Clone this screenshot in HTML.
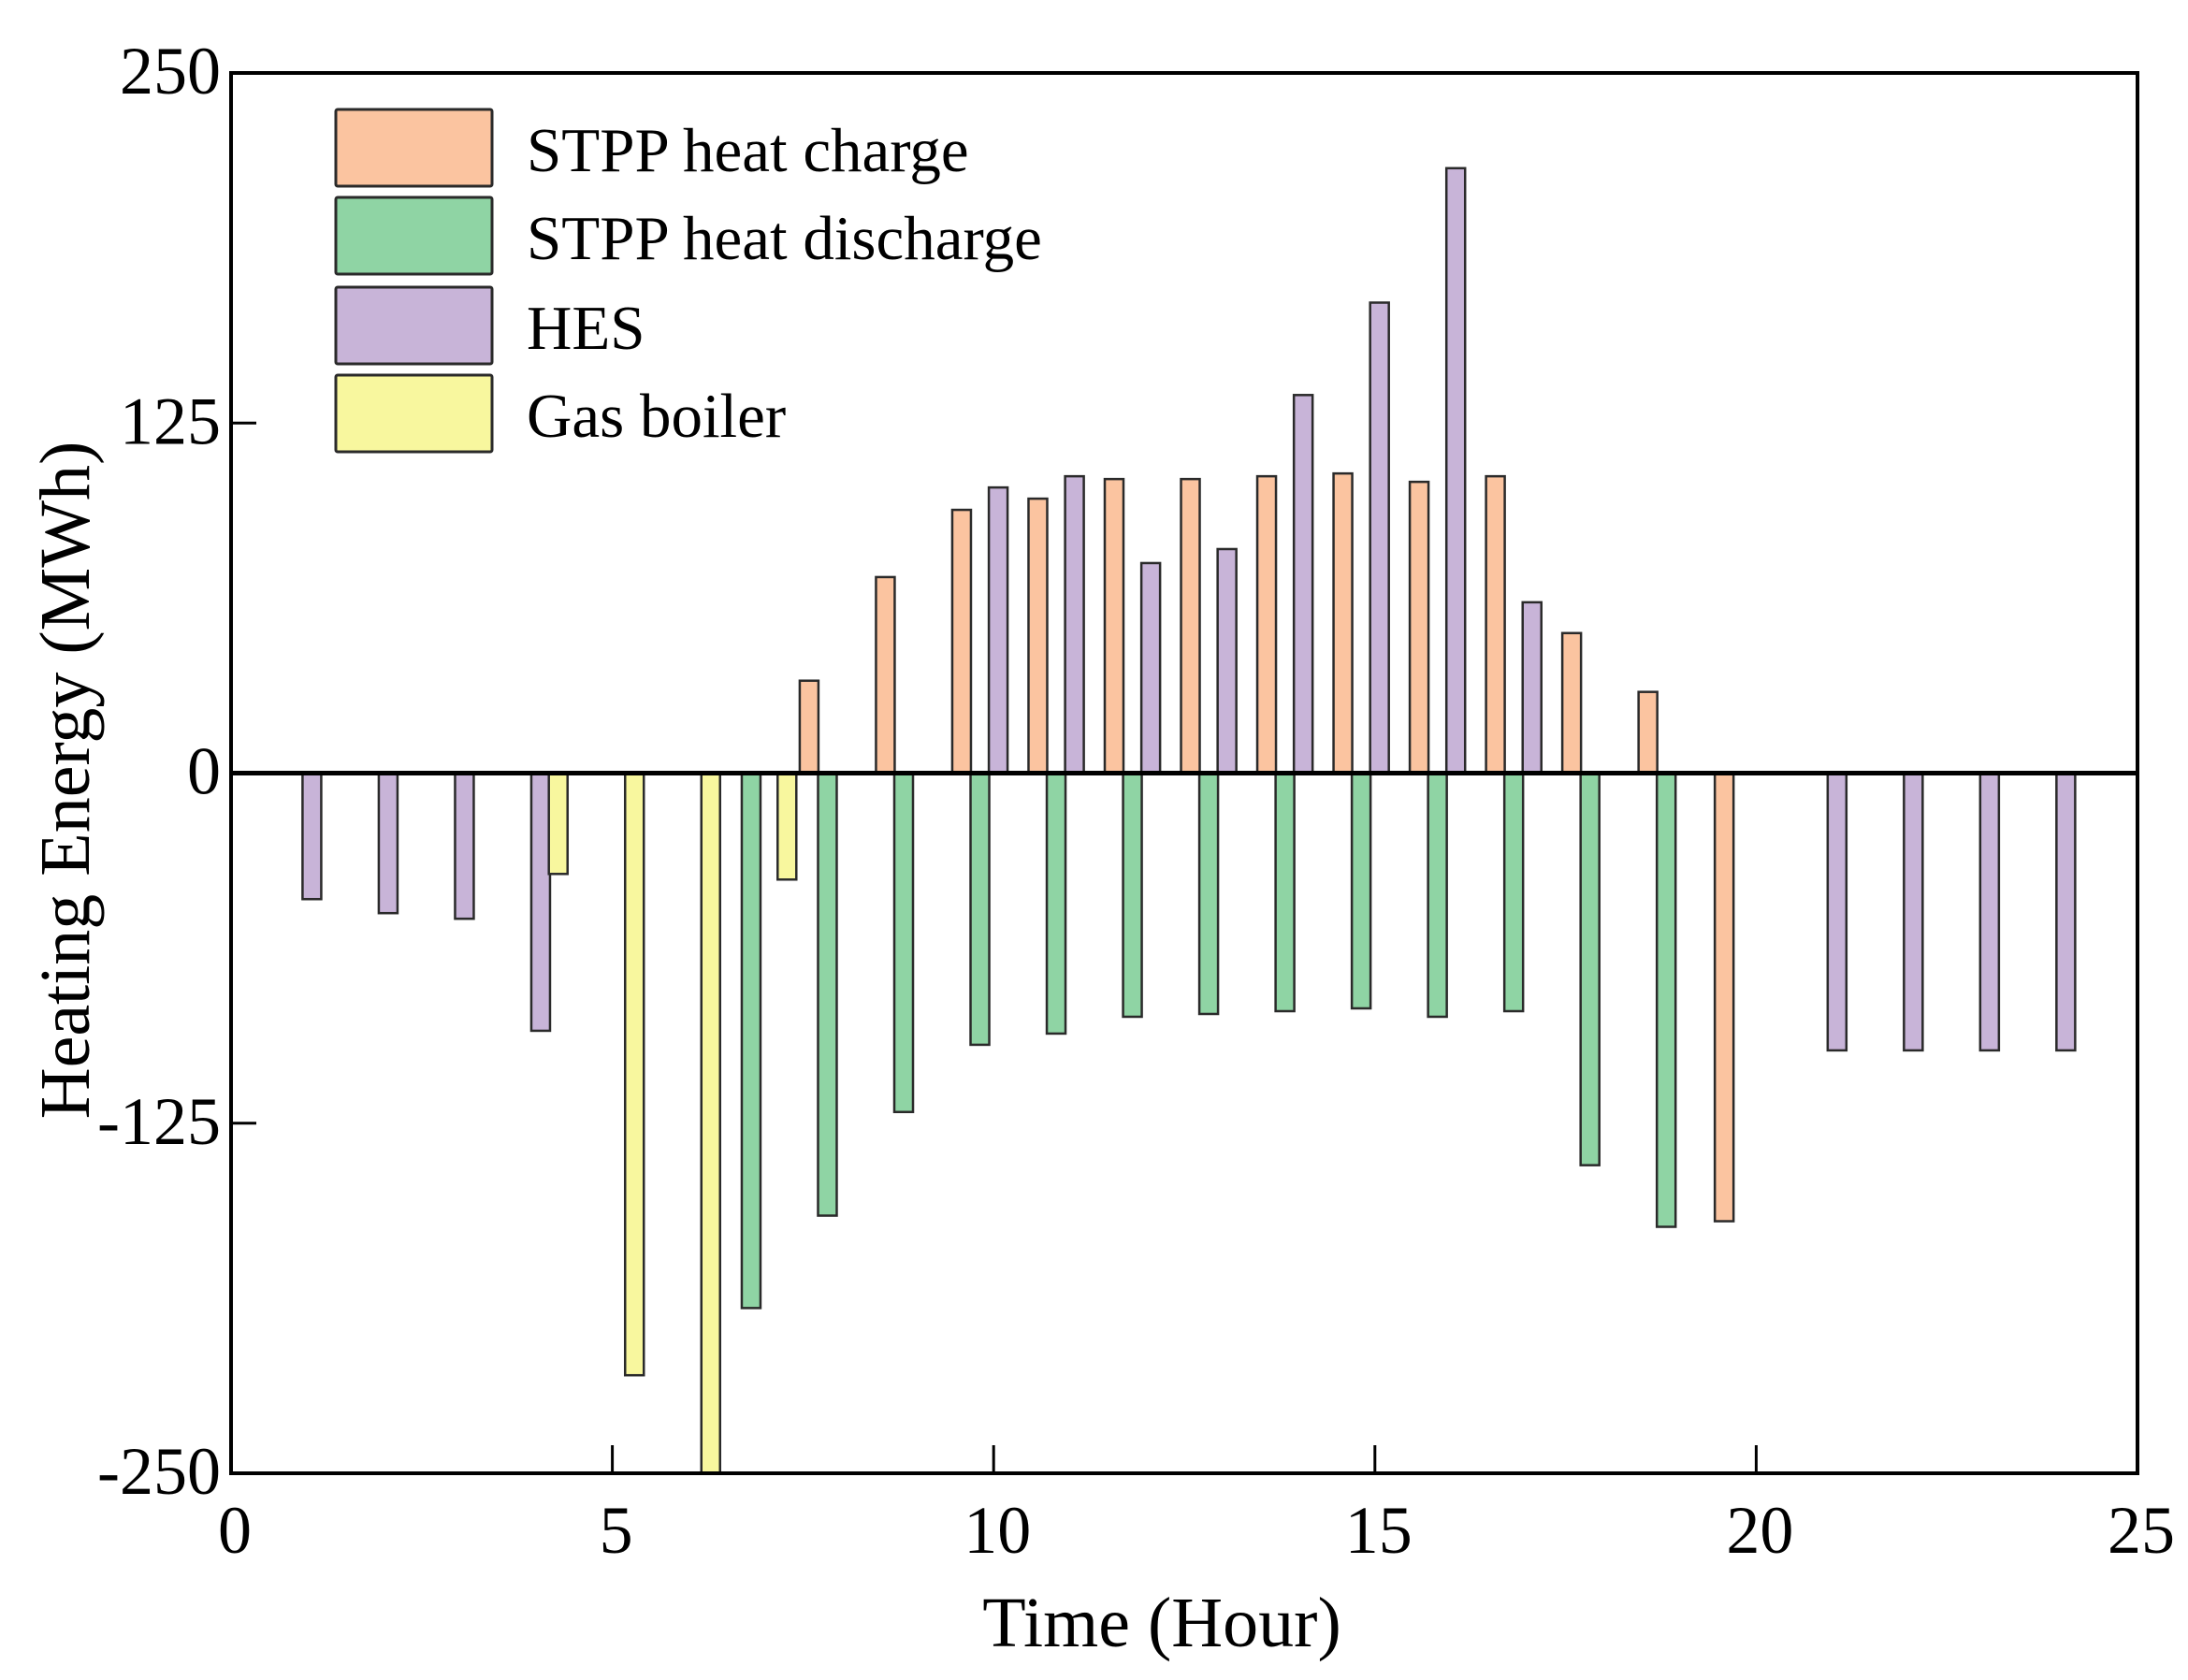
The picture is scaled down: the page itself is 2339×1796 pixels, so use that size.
<!DOCTYPE html>
<html><head><meta charset="utf-8"><style>
html,body{margin:0;padding:0;background:#fff;}
svg{display:block;font-family:"Liberation Serif",serif;}
</style></head><body>
<svg id="chart" width="2339" height="1796" viewBox="0 0 2339 1796" xmlns="http://www.w3.org/2000/svg">
<g id="bars"></g>
<g id="axes"></g>
<g id="legend"></g>
</svg>
<script>
const hesHours=[1,2,3,4,10,11,12,13,14,15,16,17,21,22,23,24];
const hesValues=[-45,-50,-52,-92,102,106,75,80,135,168,216,61,-99,-99,-99,-99];
const gasHours=[4,5,6,7];
const gasValues=[-36,-215,-250,-38];
const chargeHours=[8,9,10,11,12,13,14,15,16,17,18,19,20];
const chargeValues=[33,70,94,98,105,105,106,107,104,106,50,29,-160];
const dischargeHours=[7,8,9,10,11,12,13,14,15,16,17,18,19];
const dischargeValues=[-191,-158,-121,-97,-93,-87,-86,-85,-84,-87,-85,-140,-162];
const xTicks=[0,5,10,15,20,25];
const yTicks=[250,125,0,-125,-250];
const yTickLabels=["250","125","0","-125","-250"];
const legendLabels=["STPP heat charge","STPP heat discharge","HES","Gas boiler"];

const NS="http://www.w3.org/2000/svg";
const L=247,R=2285,T=78,B=1575;
const xs=v=>L+(v/25)*(R-L);
const ys=v=>T+(250-v)/500*(B-T);
function mk(tag,attrs,parent){const e=document.createElementNS(NS,tag);for(const k in attrs)e.setAttribute(k,attrs[k]);parent.appendChild(e);return e;}
const bars=document.getElementById('bars'),axes=document.getElementById('axes'),legend=document.getElementById('legend');
const BW=20;
function drawSeries(hours,vals,offset,fill,name){
  hours.forEach((h,i)=>{
    const v=vals[i];const cx=xs(h+offset);
    const y0=ys(0),y1=ys(v);
    const r=mk('rect',{x:cx-BW/2,y:Math.min(y0,y1),width:BW,height:Math.abs(y1-y0),fill:fill,stroke:'#2a2a2a','stroke-width':2.5},bars);
    
    
  });
}
drawSeries(chargeHours,chargeValues,-0.42,'#fbc4a0','stpp-charge');
drawSeries(dischargeHours,dischargeValues,-0.18,'#8fd4a4','stpp-discharge');
drawSeries(hesHours,hesValues,0.06,'#c8b4d8','hes');
drawSeries(gasHours,gasValues,0.29,'#f8f79e','gas-boiler');

let f=mk('rect',{x:L,y:T,width:R-L,height:B-T,fill:'none',stroke:'#000','stroke-width':4},axes);

let z=mk('line',{x1:L,x2:R,y1:ys(0),y2:ys(0),stroke:'#000','stroke-width':5},axes);

xTicks.forEach(t=>{
  if(t>0&&t<25){const tk=mk('line',{x1:xs(t),x2:xs(t),y1:B,y2:B-30,stroke:'#000','stroke-width':3},axes);
  }
  const tx=mk('text',{x:xs(t)+4,y:1660,'font-size':72,'text-anchor':'middle'},axes);tx.textContent=t;
  
});
yTicks.forEach((t,i)=>{
  if(t===125||t===-125){const tk=mk('line',{x1:L,x2:L+27,y1:ys(t),y2:ys(t),stroke:'#000','stroke-width':3},axes);
  }
  const tx=mk('text',{x:236,y:ys(t)+22,'font-size':72,'text-anchor':'end'},axes);tx.textContent=yTickLabels[i];
  
});
let xt=mk('text',{x:1242,y:1760,'font-size':76,'text-anchor':'middle'},axes);xt.textContent='Time (Hour)';

let yt=mk('text',{x:0,y:0,'font-size':76,'text-anchor':'middle',transform:'translate(95,834) rotate(-90)'},axes);yt.textContent='Heating Energy (MWh)';


const legFills=['#fbc4a0','#8fd4a4','#c8b4d8','#f8f79e'];
const legY=[117,211,307,401];
legendLabels.forEach((lab,i)=>{
  const b=mk('rect',{x:359,y:legY[i],width:167,height:82,fill:legFills[i],stroke:'#2a2a2a','stroke-width':3,rx:2},legend);
  
  const tx=mk('text',{x:563,y:legY[i]+66,'font-size':67},legend);tx.textContent=lab;
  
});
</script>
</body></html>
